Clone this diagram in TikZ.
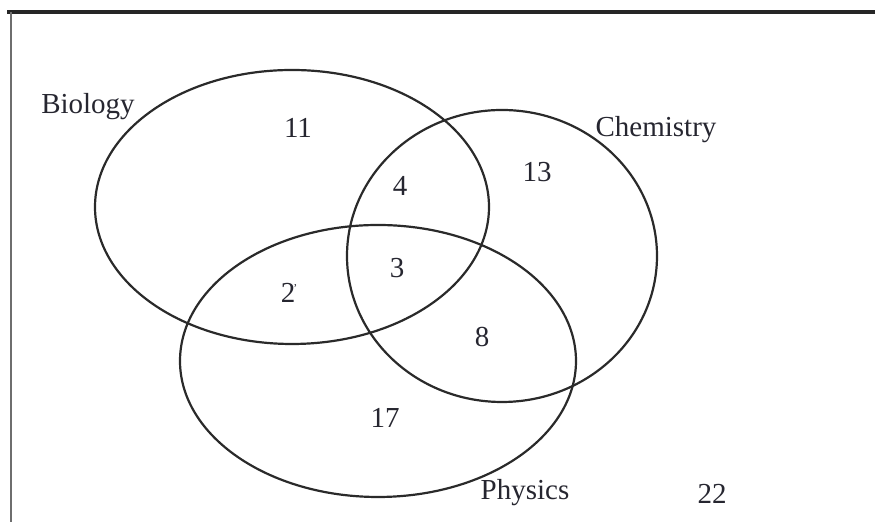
\documentclass[tikz,border=0pt]{standalone}
\usepackage{fontspec}
\setmainfont{Liberation Serif}
\definecolor{venninc}{HTML}{2A2A2A}
\definecolor{venntxt}{HTML}{262630}
\definecolor{framegray}{HTML}{6E6E6E}
\tikzset{
  setline/.style={venninc, line width=1.1pt},
  setlabel/.style={venntxt, font=\fontsize{14.5}{16}\selectfont, inner sep=0pt},
  count/.style={venntxt, font=\fontsize{14.5}{16}\selectfont, inner sep=0pt}
}

\begin{document}
\begin{tikzpicture}[x=0.5pt, y=-0.5pt]
  \useasboundingbox (0,0) rectangle (875,522);
  %% frame ──────────────────────────────────────────────────────
  \draw[black!85, line width=1.6pt] (7,12) -- (875,12);
  \draw[framegray, line width=1.3pt] (11,12) -- (11,522);
  %% the three sets ─────────────────────────────────────────────
  \coordinate (bio) at (292,207);
  \coordinate (chem) at (502,256);
  \coordinate (phys) at (378,361);
  \draw[setline] (bio) ellipse [x radius=197, y radius=137];
  \draw[setline] (chem) ellipse [x radius=155, y radius=146];
  \draw[setline] (phys) ellipse [x radius=198, y radius=136];
  %% set names ──────────────────────────────────────────────────
  \node[setlabel] (biolabel) at (88,107) {Biology};
  \node[setlabel] (chemlabel) at (656,130) {Chemistry};
  \node[setlabel] (physlabel) at (525,493) {Physics};
  %% region counts ──────────────────────────────────────────────
  \node[count] (onlybio) at (298,128) {11};
  \node[count] (bioChem) at (400,186) {4};
  \node[count] (onlychem) at (537,172) {13};
  \node[count] (allthree) at (397,268) {3};
  \node[count] (bioPhys) at (289,293) {2\kern-1pt\raisebox{5pt}{\fontsize{6}{7}\selectfont'}};
  \node[count] (chemPhys) at (482,337) {8};
  \node[count] (onlyphys) at (385,418) {17};
  \node[count] (outside) at (712,494) {22};
\end{tikzpicture}
\end{document}
